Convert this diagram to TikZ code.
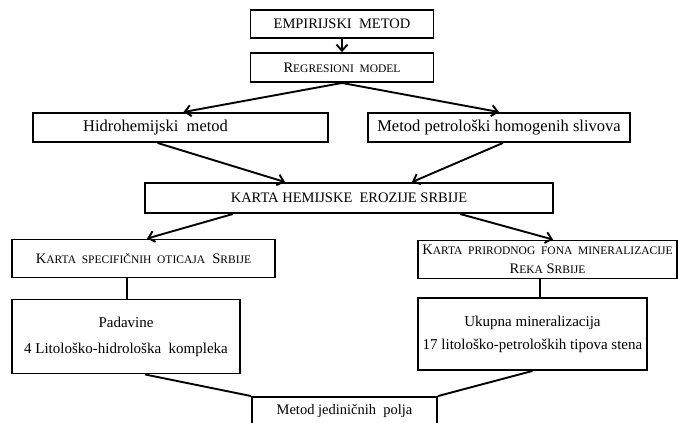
\documentclass[tikz,border=0pt]{standalone}
\usepackage{fontspec}
\setmainfont{Liberation Serif}
\usetikzlibrary{arrows.meta}
\newcommand{\smal}[1]{{\fontsize{11.5}{13}\selectfont #1}}
\tikzset{
  every picture/.style={line width=1.9pt},
  box/.style={draw, rectangle, align=center, inner sep=2pt},
  arrow/.style={-{Straight Barb[length=6pt,width=11pt]}},
  big/.style={font=\fontsize{16.5}{20}\selectfont},
  mid/.style={font=\fontsize{15}{18}\selectfont},
  upper/.style={font=\fontsize{14.5}{19}\selectfont},
}

\begin{document}
\begin{tikzpicture}[x=1pt, y=-1pt]
  \useasboundingbox (0,0) rectangle (678,423);
  \clip (0,0) rectangle (678,423);

  \node[box, upper, minimum width=183pt, minimum height=28pt] (emp) at (342,24) {EMPIRIJSKI\ \ METOD};
  \node[box, upper, minimum width=183pt, minimum height=29pt] (reg) at (342,67.5) {R\smal{EGRESIONI\ \ MODEL}};
  \node[box, big, minimum width=295pt, minimum height=29pt] (hid) at (180.5,127.5) {Hidrohemijski\ \ metod\hspace*{50pt}};
  \node[box, big, minimum width=262pt, minimum height=29pt] (pet) at (499,127.5) {Metod petrološki homogenih slivova};
  \node[box, upper, minimum width=408pt, minimum height=30pt] (kar) at (349,198) {KARTA HEMIJSKE\ \ EROZIJE SRBIJE};
  \node[box, upper, minimum width=263pt, minimum height=38pt] (spec) at (143.5,258.5)
    {K\smal{ARTA\ \ SPECIFIČNIH\ \ OTICAJA}\ \ S\smal{RBIJE}};
  \node[box, upper, minimum width=259pt, minimum height=38pt] (fon) at (547.5,259.5)
    {K\smal{ARTA\ \ PRIRODNOG\ \ FONA\ \ MINERALIZACIJE}\\R\smal{EKA} S\smal{RBIJE}};
  \node[box, mid, minimum width=228pt, minimum height=74pt] (pad) at (126,336.5)
    {Padavine\\[8pt]4 Litološko-hidrološka\ \ kompleka};
  \node[box, mid, minimum width=229pt, minimum height=72pt] (uk) at (532.5,334)
    {Ukupna mineralizacija\\[5pt]17 litološko-petroloških tipova stena};
  \node[box, upper, minimum width=185pt, minimum height=28pt] (jed) at (344.5,411) {Metod jediničnih\ \ polja};

  % arrows
  \draw[arrow] (emp) -- (reg);
  \draw[arrow] (reg.south) -- ([xshift=3pt]hid.north);
  \draw[arrow] (reg.south) -- (pet.north);
  \draw[arrow] ([xshift=-23pt]hid.south) -- ([xshift=-64pt]kar.north);
  \draw[arrow] ([xshift=4pt]pet.south) -- ([xshift=63pt]kar.north);
  \draw[arrow] ([xshift=-116pt]kar.south) -- ([xshift=3.5pt]spec.north);
  \draw[arrow] ([xshift=111pt]kar.south) -- ([xshift=5.5pt]fon.north);
  % plain lines
  \draw ([xshift=-16.5pt]spec.south) -- ([xshift=1pt]pad.north);
  \draw ([xshift=-7.5pt]fon.south) -- ([xshift=7.5pt]uk.north);
  \draw ([xshift=19pt]pad.south) -- (jed.north west);
  \draw (uk.south) -- (jed.north east);
\end{tikzpicture}
\end{document}
